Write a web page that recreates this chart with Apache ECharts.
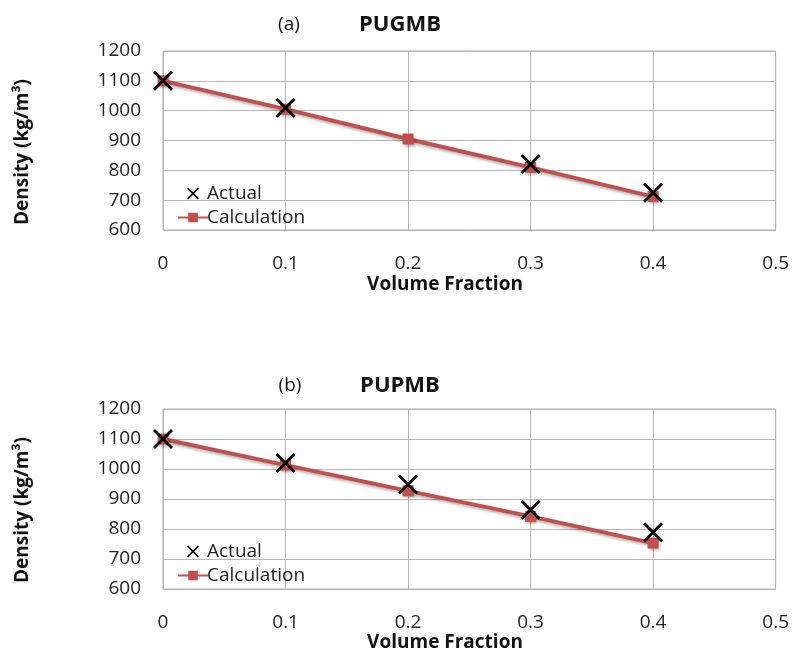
<!DOCTYPE html>
<html>
<head>
<meta charset="utf-8">
<script src="https://cdn.jsdelivr.net/npm/echarts@6/dist/echarts.min.js"></script>
<style>
  html, body { margin: 0; padding: 0; background: #fff; }
  #main { width: 792px; height: 654px; }
</style>
</head>
<body>
<div id="main"></div>
<script>
// volume fractions and densities
var fractions = [0, 0.1, 0.2, 0.3, 0.4];
var pugmbActual = [1100, 1010, null, 820, 725];
var pugmbCalc = [1100, 1005, 905, 810, 712];
var pupmbActual = [1100, 1020, 948, 864, 789];
var pupmbCalc = [1100, 1013, 927, 842, 753];
var xTicks = [0, 0.1, 0.2, 0.3, 0.4, 0.5];
var yTicks = [600, 700, 800, 900, 1000, 1100, 1200];

var FONT = 'Open Sans';
var RED = '#c0504d';
var CROSS = 'path://M0,1L1,0L5,4L9,0L10,1L6,5L10,9L9,10L5,6L1,10L0,9L4,5Z';

function pairs(vals) {
  var out = [];
  vals.forEach(function (v, i) { if (v != null) out.push([fractions[i], v]); });
  return out;
}

var grids = [
  { left: 163, width: 614, top: 51, height: 179, show: true, borderColor: '#b0b0b0', borderWidth: 1 },
  { left: 163, width: 614, top: 409, height: 180, show: true, borderColor: '#b0b0b0', borderWidth: 1 }
];

function xAxis(i) {
  return {
    type: 'value', gridIndex: i, min: xTicks[0], max: xTicks[xTicks.length - 1], interval: 0.1,
    axisLine: { show: false }, axisTick: { show: false },
    splitLine: { lineStyle: { color: '#b5b5b5', width: 1 } },
    axisLabel: { margin: 24, fontFamily: FONT, fontSize: 19, color: '#222',
      formatter: function (v) { return String(Math.round(v * 10) / 10); } }
  };
}
function yAxis(i) {
  return {
    type: 'value', gridIndex: i, min: yTicks[0], max: yTicks[yTicks.length - 1], interval: 100,
    axisLine: { show: false }, axisTick: { show: false },
    splitLine: { lineStyle: { color: '#b5b5b5', width: 1 } },
    axisLabel: { margin: 22, fontFamily: FONT, fontSize: 19, color: '#222',
      formatter: function (v) { return String(v); } }
  };
}

function calcSeries(i, vals) {
  return {
    name: 'Calculation', type: 'line', xAxisIndex: i, yAxisIndex: i,
    data: pairs(vals), symbol: 'rect', symbolSize: 11, z: 2,
    lineStyle: { color: RED, width: 4, shadowBlur: 3, shadowColor: 'rgba(0,0,0,0.3)', shadowOffsetX: 1, shadowOffsetY: 2 },
    itemStyle: { color: RED, shadowBlur: 3, shadowColor: 'rgba(0,0,0,0.3)', shadowOffsetX: 1, shadowOffsetY: 2 }
  };
}
function actualSeries(i, vals) {
  return {
    name: 'Actual', type: 'scatter', xAxisIndex: i, yAxisIndex: i,
    data: pairs(vals), symbol: CROSS, symbolSize: 20, z: 3,
    itemStyle: { color: '#000', opacity: 1 }
  };
}

function legend(top) {
  return {
    orient: 'vertical', left: 172, top: top, itemGap: 5, itemWidth: 30, itemHeight: 12,
    data: [{ name: 'Actual', icon: CROSS }, { name: 'Calculation' }],
    textStyle: { fontFamily: FONT, fontSize: 19, color: '#222', padding: [0, 0, 0, -6] },
    selectedMode: false
  };
}

function label(text, x, y, bold, size, rotate) {
  return {
    type: 'text', x: x, y: y, rotation: rotate || 0,
    style: { text: text, fontFamily: FONT, fontSize: size, fontWeight: bold ? 'bold' : 'normal',
      fill: '#111', align: 'center', verticalAlign: 'middle' }
  };
}

var chart = echarts.init(document.getElementById('main'), null, { renderer: 'canvas' });
chart.setOption({
  animation: false,
  backgroundColor: '#fff',
  grid: grids,
  xAxis: [xAxis(0), xAxis(1)],
  yAxis: [yAxis(0), yAxis(1)],
  legend: [legend(179), legend(537)],
  series: [
    calcSeries(0, pugmbCalc), actualSeries(0, pugmbActual),
    calcSeries(1, pupmbCalc), actualSeries(1, pupmbActual)
  ],
  graphic: [
    label('(a)', 289, 25, false, 19),
    label('PUGMB', 400, 25, true, 22),
    label('(b)', 290, 386, false, 19),
    label('PUPMB', 400, 386, true, 22),
    label('Density (kg/m³)', 23, 152, true, 19, Math.PI / 2),
    label('Density (kg/m³)', 23, 510, true, 19, Math.PI / 2),
    label('Volume Fraction', 445, 285, true, 19),
    label('Volume Fraction', 445, 643, true, 19)
  ]
});
</script>
</body>
</html>
